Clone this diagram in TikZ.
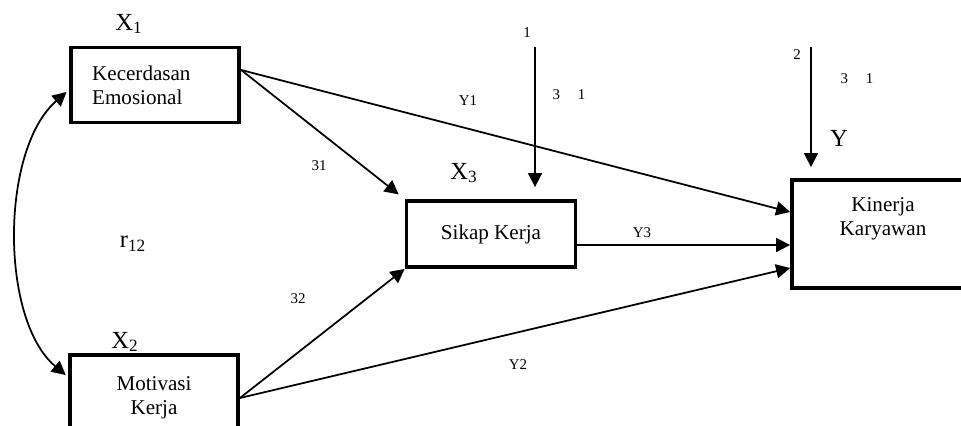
\documentclass[tikz,border=0pt]{standalone}
\usepackage{fontspec}
\setmainfont{Liberation Serif}
\usepackage{tikz}
\usetikzlibrary{arrows.meta, positioning, calc}

\begin{document}
\begin{tikzpicture}[
  x=0.02cm, y=-0.02cm,
  var/.style    = {draw, line width=2.2pt, align=center, fill=white,
                   font=\fontsize{12}{13.5}\selectfont},
  boxtext/.style= {inner sep=0pt, align=left,
                   font=\fontsize{12}{13.5}\selectfont},
  lbl/.style    = {inner sep=0pt, font=\fontsize{14}{16}\selectfont},
  coef/.style   = {inner sep=0pt, font=\fontsize{8.5}{10}\selectfont},
  arr/.style    = {-{Triangle[length=0.28cm, width=0.28cm]}, line width=1pt},
  dbl/.style    = {{Triangle[length=0.28cm, width=0.28cm]}-{Triangle[length=0.28cm, width=0.28cm]},
                   line width=1pt},
]

\useasboundingbox (0,0) rectangle (961,426);

%% Exogenous variables
\node[var, minimum width=3.37cm, minimum height=1.5cm] (kecerdasan) at (155, 85) {};
\node[boxtext, right=0.46cm of kecerdasan.west] (kecerdasantext) {Kecerdasan\\Emosional};
\node[var, minimum width=3.36cm, minimum height=1.72cm] (motivasi) at (154, 398)
     {Motivasi\\Kerja};

%% Intervening variable
\node[var, minimum width=3.38cm, minimum height=1.32cm] (sikap) at (491, 234) {Sikap Kerja};

%% Dependent variable
\node[var, minimum width=3.64cm, minimum height=2.16cm] (kinerja) at (883, 234) {};
\node[boxtext, align=center, below=0.38cm of kinerja.north] (kinerjatext) {Kinerja\\Karyawan};

%% Variable labels
\node[lbl] (x1)   at (129, 24)  {X\textsubscript{1}};
\node[lbl] (x2)   at (125, 342) {X\textsubscript{2}};
\node[lbl] (x3)   at (464, 173) {X\textsubscript{3}};
\node[lbl] (ylbl) at (839, 138) {Y};
\node[lbl] (r12)  at (133, 244) {r\textsubscript{12}};

%% Residual arrows
\coordinate (e1) at (535, 47);
\coordinate (e2) at (811, 47);
\node[coef] (e1lbl) at (527, 33) {1};
\node[coef] (e1coef) at (569, 95) {3\hspace{1.2em}1};
\node[coef] (e2lbl) at (797, 55) {2};
\node[coef] (e2coef) at (857, 79) {3\hspace{1.2em}1};
\draw[arr, shorten >=0.24cm] (e1) -- (e1 |- sikap.north);
\draw[arr, shorten >=0.22cm] (e2) -- (e2 |- kinerja.north);

%% Paths
\draw[arr] ([yshift=0.3cm]kecerdasan.east) -- ([yshift=0.44cm]kinerja.west);
\draw[arr, shorten >=0.15cm] ([yshift=0.3cm]kecerdasan.east) -- (sikap.north west);
\draw[arr] (motivasi.east) -- (sikap.south west);
\draw[arr] (motivasi.east) -- ([yshift=-0.68cm]kinerja.west);
\draw[arr] ([yshift=-0.22cm]sikap.east) -- ([yshift=-0.22cm]kinerja.west);

%% Correlation
\draw[dbl, shorten <=0.06cm, shorten >=0.06cm]
     ([yshift=-0.1cm]kecerdasan.west) .. controls (0, 150) and (0, 320) ..
     ([yshift=0.42cm]motivasi.west);

%% Path labels
\node[coef] (py1) at (468, 101) {Y1};
\node[coef] (p31) at (319, 166) {31};
\node[coef] (p32) at (298, 299) {32};
\node[coef] (py3) at (642, 233) {Y3};
\node[coef] (py2) at (518, 365) {Y2};

\end{tikzpicture}
\end{document}
